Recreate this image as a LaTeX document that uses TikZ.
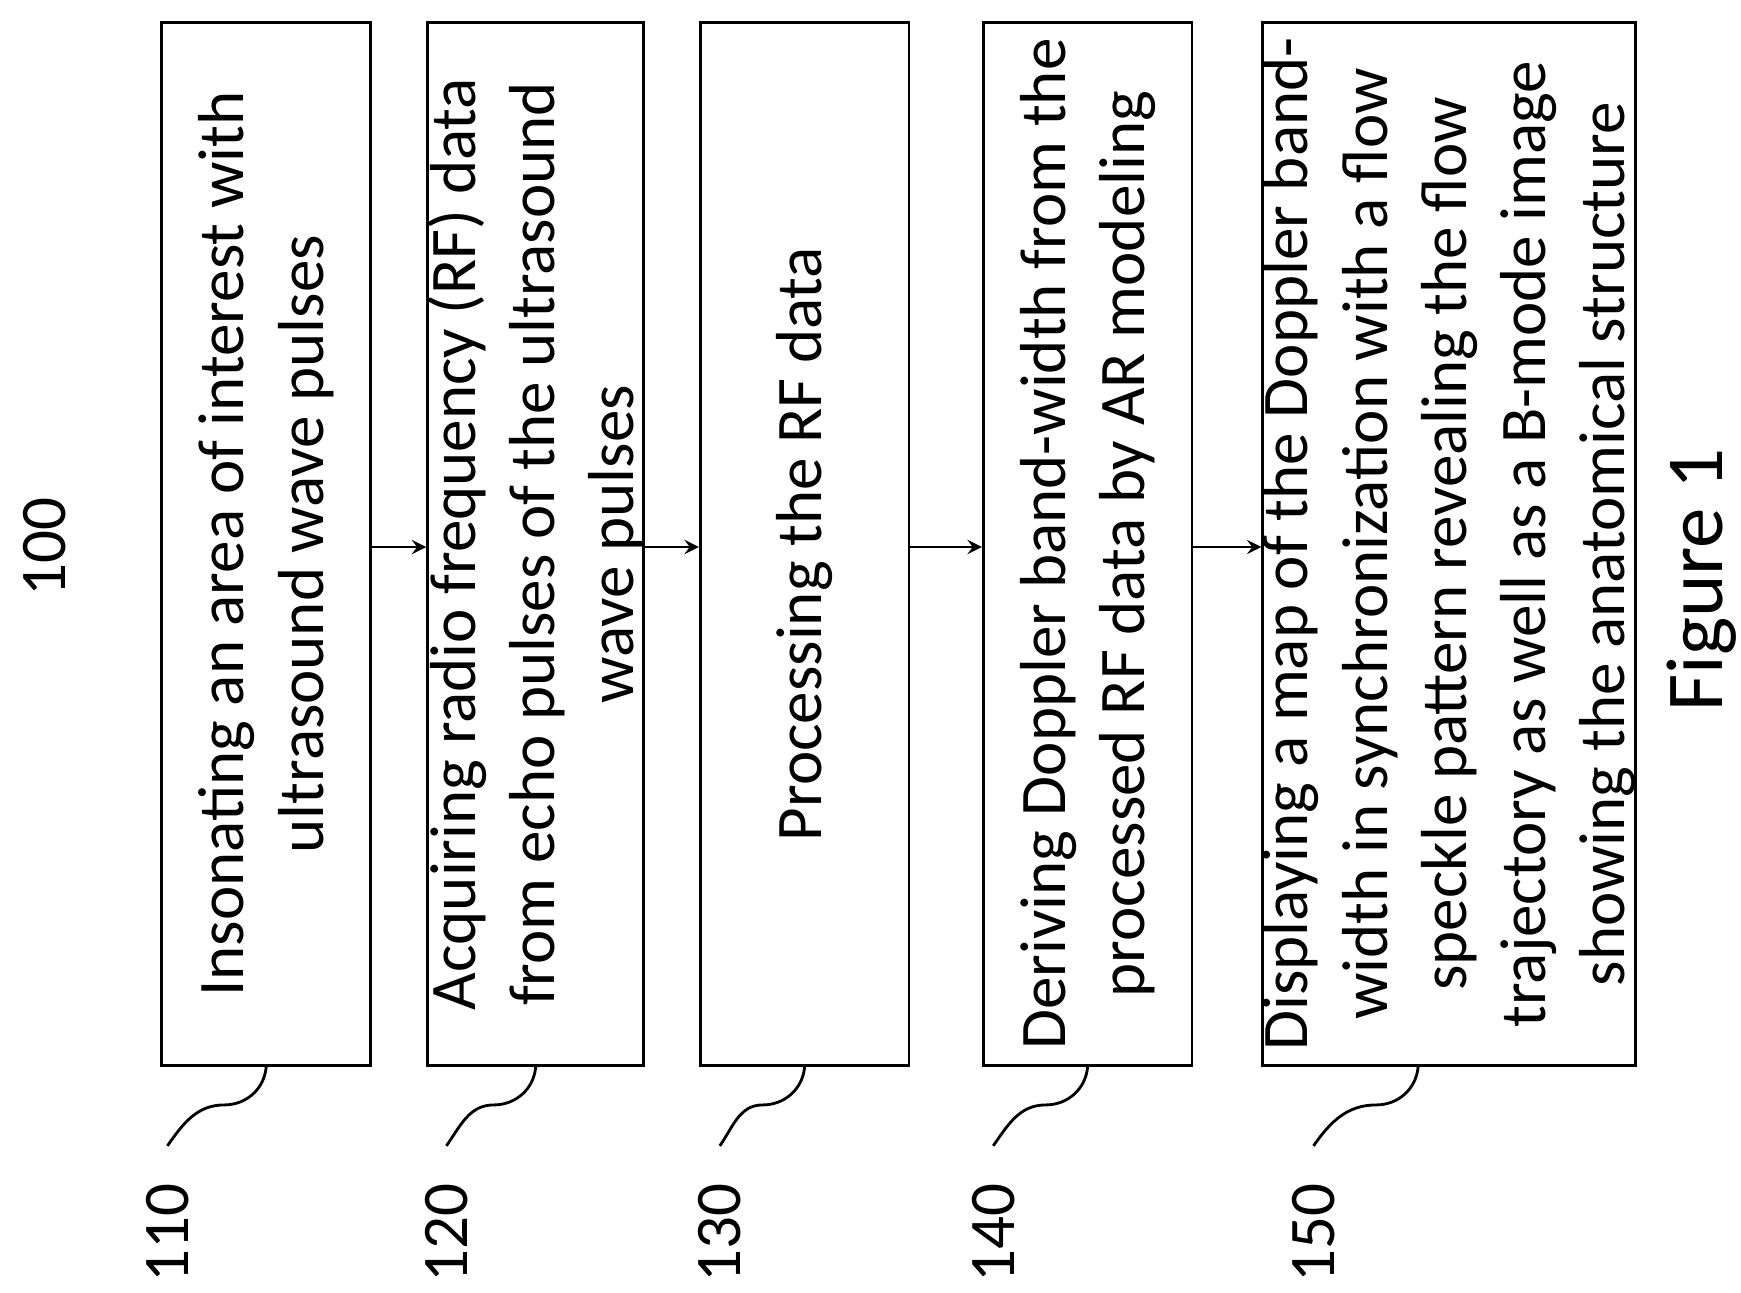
\documentclass[tikz,border=0pt]{standalone}
\usepackage{fontspec}
\setmainfont{Carlito}
\usetikzlibrary{positioning}

\tikzset{
  stepbox/.style={draw, thick, rotate=90, minimum width=10.43cm, minimum height=2.087cm,
    align=center, font=\fontsize{18.5}{22.5}\selectfont, inner sep=0pt},
  ref/.style={rotate=90, font=\fontsize{18.5}{22}\selectfont, inner sep=2pt},
  flow/.style={->, >=stealth, thick},
  squig/.style={thick}
}

\begin{document}
\begin{tikzpicture}
  \useasboundingbox (0,0) rectangle (17.41,-12.92);

  \node[stepbox] (b1) at (2.662,-5.44) {Insonating an area of interest with\\ultrasound wave pulses};
  \node[stepbox] (b2) at (5.357,-5.44) {Acquiring radio frequency (RF) data\\from echo pulses of the ultrasound\\wave pulses};
  \node[stepbox] (b3) at (8.046,-5.44) {Processing the RF data};
  \node[stepbox] (b4) at (10.876,-5.44) {Deriving Doppler band-width from the\\processed RF data by AR modeling};
  \node[stepbox, minimum height=3.67cm] (b5) at (14.491,-5.44) {Displaying a map of the Doppler band-\\width in synchronization with a flow\\speckle pattern revealing the flow\\trajectory as well as a B-mode image\\showing the anatomical structure};

  % step numbers
  \node[ref] (l1) at (1.674,-12.33) {110};
  \node[ref] (l2) at (4.464,-12.33) {120};
  \node[ref] (l3) at (7.198,-12.33) {130};
  \node[ref] (l4) at (9.932,-12.33) {140};
  \node[ref] (l5) at (13.135,-12.33) {150};

  \node[ref] (fig) at (0.446,-5.47) {100};
  \node[rotate=90, font=\fontsize{23}{27}\selectfont] (cap) at (17.02,-5.8) {Figure 1};

  \foreach \a/\b in {b1/b2, b2/b3, b3/b4, b4/b5}
    \draw[flow] ([yshift=-0.03cm]\a.south) -- ([yshift=-0.03cm]\b.north);

  \foreach \i/\s in {1/0, 2/0, 3/0, 4/0, 5/-0.31}
    \draw[squig] ([xshift=\s cm]b\i.west) to[out=-95,in=0] ++(-0.42,-0.38)
      to[out=180,in=55] ([yshift=0.3cm]l\i.east);
\end{tikzpicture}
\end{document}
